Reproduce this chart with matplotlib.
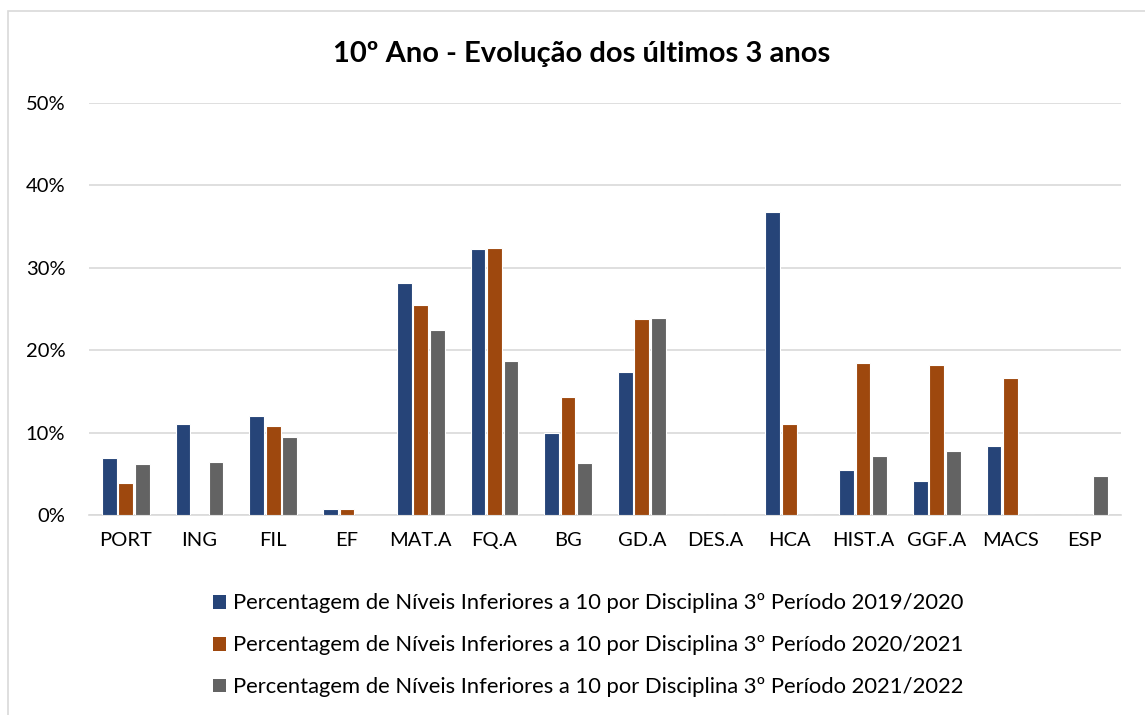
import matplotlib
matplotlib.use("Agg")
import matplotlib.pyplot as plt
from matplotlib.patches import Rectangle, Patch
from matplotlib.ticker import PercentFormatter
import numpy as np

plt.rcParams['font.family'] = ['Lato', 'DejaVu Sans']

disciplinas = ["PORT", "ING", "FIL", "EF", "MAT.A", "FQ.A", "BG", "GD.A",
               "DES.A", "HCA", "HIST.A", "GGF.A", "MACS", "ESP"]
p2019_2020 = [6.9, 11.0, 12.0, 0.7, 28.2, 32.3, 10.0, 17.4, 0.0, 36.8, 5.5, 4.1, 8.4, 0.0]
p2020_2021 = [3.9, 0.0, 10.8, 0.7, 25.5, 32.4, 14.3, 23.8, 0.0, 11.0, 18.4, 18.2, 16.6, 0.0]
p2021_2022 = [6.2, 6.4, 9.5, 0.0, 22.5, 18.7, 6.3, 23.9, 0.0, 0.0, 7.2, 7.8, 0.0, 4.7]
series_labels = [
    "Percentagem de Níveis Inferiores a 10 por Disciplina 3º Período 2019/2020",
    "Percentagem de Níveis Inferiores a 10 por Disciplina 3º Período 2020/2021",
    "Percentagem de Níveis Inferiores a 10 por Disciplina 3º Período 2021/2022",
]
colors = ["#264478", "#9E480E", "#636363"]

fig = plt.figure(figsize=(11.45, 7.15), dpi=100)
ax = fig.add_axes([0.0777, 0.2797, 0.9013, 0.5763])

x = np.arange(len(disciplinas))
step = 0.224
width = 0.2
for i, (vals, c) in enumerate(zip([p2019_2020, p2020_2021, p2021_2022], colors)):
    ax.bar(x + (i - 1) * step, vals, width=width, color=c,
           edgecolor="white", linewidth=0.8, zorder=3)

ax.set_xlim(-0.5, len(disciplinas) - 0.5)
ax.set_ylim(0, 50)
ax.set_yticks(np.arange(0, 51, 10))
ax.yaxis.set_major_formatter(PercentFormatter(decimals=0))
ax.set_xticks(x)
ax.set_xticklabels(disciplinas)
ax.grid(axis="y", color="#d9d9d9", linewidth=1.2, zorder=0)
for s in ["top", "right", "left"]:
    ax.spines[s].set_visible(False)
ax.spines["bottom"].set_color("#d9d9d9")
ax.spines["bottom"].set_linewidth(1.2)
ax.tick_params(axis="both", length=0, labelsize=14.5, colors="#000000")
ax.tick_params(axis="x", pad=12)
ax.tick_params(axis="y", pad=17)

fig.text(0.508, 0.925, "10º Ano - Evolução dos últimos 3 anos",
         ha="center", va="center", fontsize=21, fontweight="bold")

handles = [Patch(facecolor=c, edgecolor="none") for c in colors]
fig.legend(handles, series_labels, loc="center", bbox_to_anchor=(0.5135, 0.0975),
           ncol=1, frameon=False, fontsize=15.8, handlelength=0.6, handleheight=0.6,
           handletextpad=0.3, labelspacing=1.0)

fig.patches.append(Rectangle((0.007, -0.01), 1.2, 0.995, transform=fig.transFigure,
                             fill=False, edgecolor="#d9d9d9", linewidth=1.2))

fig.savefig("out.png", dpi=100, facecolor="white")
